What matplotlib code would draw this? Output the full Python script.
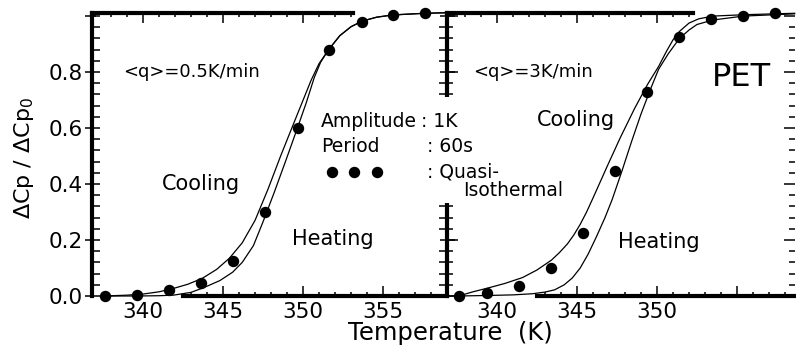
import matplotlib
matplotlib.use("Agg")
import matplotlib.pyplot as plt
from matplotlib.ticker import FixedLocator, NullFormatter, FixedFormatter
from matplotlib.patches import Rectangle
from matplotlib.lines import Line2D

# ---- data ----
# left panel, <q> = 0.5 K/min
left_cool_T = [337.6, 339.0, 340.0, 341.0, 341.9, 342.8, 343.7, 344.6, 345.4, 346.2, 347.0, 347.8,
               348.6, 349.3, 349.9, 350.5, 351.0, 351.6, 352.3, 353.0, 353.7, 354.6, 355.6, 357.6, 359.0]
left_cool_v = [0.0, 0.003, 0.007, 0.015, 0.027, 0.042, 0.063, 0.095, 0.135, 0.19, 0.27, 0.38,
               0.50, 0.60, 0.685, 0.77, 0.83, 0.88, 0.93, 0.962, 0.982, 0.996, 1.004, 1.01, 1.012]
left_heat_T = [337.6, 339.6, 341.0, 341.9, 343.0, 343.8, 344.8, 345.6, 346.2, 346.9, 347.5, 348.2,
               348.9, 349.65, 350.2, 350.7, 351.1, 351.6, 352.3, 353.0, 353.7, 354.6, 355.6, 357.6, 359.0]
left_heat_v = [0.0, 0.0, 0.001, 0.003, 0.013, 0.03, 0.055, 0.085, 0.12, 0.18, 0.265, 0.37,
               0.48, 0.60, 0.69, 0.78, 0.835, 0.88, 0.93, 0.962, 0.982, 0.996, 1.004, 1.01, 1.012]
left_qi_T = [337.6, 339.6, 341.6, 343.6, 345.6, 347.6, 349.7, 351.6, 353.7, 355.6, 357.6]
left_qi_v = [0.0, 0.005, 0.02, 0.047, 0.125, 0.30, 0.60, 0.88, 0.98, 1.005, 1.01]

# right panel, <q> = 3 K/min
right_cool_T = [337.6, 338.5, 339.4, 340.5, 341.6, 342.5, 343.4, 343.9, 344.4, 344.8, 345.2, 345.6,
                346.0, 346.9, 347.7, 348.6, 349.4, 350.1, 350.6, 351.0, 351.4, 352.0, 352.6, 353.5,
                355.5, 358.6]
right_cool_v = [0.0, 0.015, 0.028, 0.045, 0.066, 0.093, 0.128, 0.155, 0.186, 0.218, 0.256, 0.3,
                0.35, 0.465, 0.565, 0.67, 0.755, 0.82, 0.875, 0.915, 0.945, 0.975, 0.99, 1.0,
                1.005, 1.01]
right_heat_T = [337.6, 339.5, 341.0, 342.2, 343.0, 343.6, 344.2, 344.7, 345.2, 345.7, 346.2, 346.75,
                347.2, 347.8, 348.4, 349.0, 349.6, 350.1, 350.7, 351.4, 352.0, 352.5, 353.5, 355.4, 358.6]
right_heat_v = [0.0, 0.002, 0.004, 0.008, 0.014, 0.022, 0.04, 0.064, 0.10, 0.15, 0.21, 0.28,
                0.345, 0.445, 0.55, 0.65, 0.74, 0.81, 0.865, 0.92, 0.95, 0.97, 0.986, 1.0, 1.008]
right_qi_T = [337.6, 339.4, 341.4, 343.4, 345.4, 347.4, 349.4, 351.4, 353.4, 355.4, 357.4]
right_qi_v = [0.0, 0.01, 0.035, 0.10, 0.225, 0.446, 0.73, 0.925, 0.99, 1.0, 1.01]

left_xlabels = ['340', '345', '350', '355']
right_xlabels = ['340', '345', '350', '']
ylabels = ['0.0', '0.2', '0.4', '0.6', '0.8', '']

W, H = 796, 349
fig = plt.figure(figsize=(W / 100, H / 100), dpi=100)


def px(x, y):
    return x / W, 1 - y / H


SPINE_W = 3.0
TICK_FS = 15.5
ax1 = fig.add_axes([92 / W, 53 / H, 355 / W, 283 / H])
ax2 = fig.add_axes([447 / W, 53 / H, 348 / W, 283 / H])
ax1.set_xlim(336.81, 359.0)
ax2.set_xlim(336.875, 358.625)


def style(ax, top_to, bottom_from, xlabels, left_labels):
    ax.set_ylim(0, 1.011)
    ax.xaxis.set_major_locator(FixedLocator([340, 345, 350, 355]))
    ax.xaxis.set_major_formatter(FixedFormatter(xlabels))
    ax.xaxis.set_minor_locator(FixedLocator(list(range(337, 359))))
    ax.yaxis.set_major_locator(FixedLocator([0, 0.2, 0.4, 0.6, 0.8, 1.0]))
    ax.yaxis.set_minor_locator(FixedLocator([i * 0.04 for i in range(26)]))
    if left_labels:
        ax.yaxis.set_major_formatter(FixedFormatter(ylabels))
    else:
        ax.yaxis.set_major_formatter(NullFormatter())
    for s in ax.spines.values():
        s.set_linewidth(SPINE_W)
    ax.spines['top'].set_bounds(ax.get_xlim()[0], top_to)
    ax.spines['bottom'].set_bounds(bottom_from, ax.get_xlim()[1])
    ax.tick_params(axis='x', which='both', direction='in', top=True, bottom=True,
                   labelsize=TICK_FS, pad=4.5, width=1.1)
    ax.tick_params(axis='x', which='major', length=7.5)
    ax.tick_params(axis='x', which='minor', length=3)
    ax.tick_params(axis='y', which='both', left=True, right=True, width=1.1)
    ax.tick_params(axis='y', which='minor', direction='in', length=5.5)
    ax.set_facecolor('none')
    # ticks only where the spine line is drawn
    for ticks, locs in ((ax.xaxis.get_major_ticks(), ax.xaxis.get_majorticklocs()),
                        (ax.xaxis.get_minor_ticks(), ax.xaxis.get_minorticklocs())):
        for t, loc in zip(ticks, locs):
            t.tick1line.set_visible(loc >= bottom_from)
            t.tick2line.set_visible(loc <= top_to)


style(ax1, 353.1, 342.5, left_xlabels, True)
style(ax2, 352.25, 342.5, right_xlabels, False)

ax1.tick_params(axis='y', which='major', direction='inout', length=10.8,
                labelsize=TICK_FS, pad=1.0)
ax1.tick_params(axis='y', which='minor', length=5.5)
ax1.spines['right'].set_visible(False)

ax2.tick_params(axis='y', which='major', direction='in', length=8)
ax2.tick_params(axis='y', which='minor', direction='in', length=4)
ax2.spines['right'].set_visible(False)

for ax, (cT, cv), (hT, hv), (dT, dv) in (
        (ax1, (left_cool_T, left_cool_v), (left_heat_T, left_heat_v), (left_qi_T, left_qi_v)),
        (ax2, (right_cool_T, right_cool_v), (right_heat_T, right_heat_v), (right_qi_T, right_qi_v))):
    ax.plot(cT, cv, color='black', lw=0.9, clip_on=False)
    ax.plot(hT, hv, color='black', lw=0.9, clip_on=False)
    ax.plot(dT, dv, 'o', color='black', ms=7.2, clip_on=False, zorder=4)

ax1.text(338.75, 0.782, '<q>=0.5K/min', fontsize=13)
ax1.text(341.19, 0.379, 'Cooling', fontsize=15)
ax1.text(349.31, 0.182, 'Heating', fontsize=15)
ax2.text(338.5, 0.782, '<q>=3K/min', fontsize=13)
ax2.text(342.5, 0.607, 'Cooling', fontsize=15)
ax2.text(347.56, 0.171, 'Heating', fontsize=15)
ax2.text(353.44, 0.75, 'PET', fontsize=23)

# conditions block; a white patch hides the middle of the shared axis behind it
fig.add_artist(Rectangle(px(428, 203), (468 - 428) / W, (203 - 97) / H,
                         transform=fig.transFigure, facecolor='white',
                         edgecolor='none', zorder=5))
blk = dict(fontsize=13.5, color='black', zorder=6, va='baseline')
fig.text(*px(321, 127), 'Amplitude', **blk)
fig.text(*px(421, 127), ': 1K', **blk)
fig.text(*px(321, 152), 'Period', **blk)
fig.text(*px(427, 152), ': 60s', **blk)
fig.text(*px(427, 177), ': Quasi-', **blk)
fig.text(*px(463, 196), 'Isothermal', **blk)
fig.add_artist(Line2D([332 / W, 354 / W, 377 / W], [1 - 172 / H] * 3,
                      transform=fig.transFigure, ls='none', marker='o',
                      ms=7.2, color='black', zorder=6))

fig.text(*px(450, 333), 'Temperature  (K)', fontsize=17.5, ha='center', va='center')
fig.text(*px(24, 158), r'$\Delta$Cp / $\Delta$Cp$_0$', fontsize=16,
         rotation=90, ha='center', va='center')

fig.savefig('out.png', dpi=100)
